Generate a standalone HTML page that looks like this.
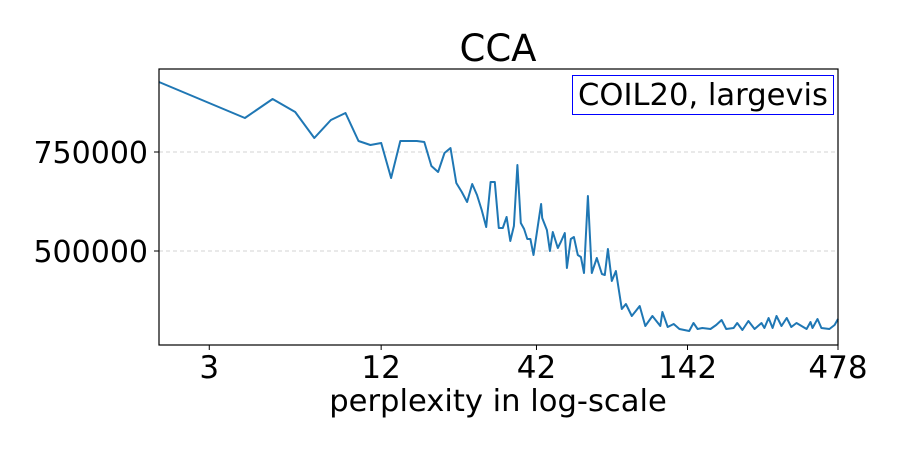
<!DOCTYPE html>
<html><head><meta charset="utf-8"><style>
body{margin:0;background:#fff;}
svg text{font-family:"DejaVu Sans","Liberation Sans",sans-serif;fill:#000;}
</style></head><body>
<svg id="chart" width="900" height="450" viewBox="0 0 900 450" xmlns="http://www.w3.org/2000/svg">
<rect width="900" height="450" fill="#fff"/>
<g id="grid"></g>
<g id="ticks"></g>
<path id="line" fill="none" stroke="#1f77b4" stroke-width="2" stroke-linejoin="round"/>
<rect x="159" y="69" width="679" height="276" fill="none" stroke="#000" stroke-width="1.2"/>
<text x="498" y="61" font-size="37" text-anchor="middle">CCA</text>
<text x="498" y="411" font-size="30.6" text-anchor="middle">perplexity in log-scale</text>
<g>
<rect x="572.5" y="75.5" width="261" height="39" fill="#fff" stroke="#0000ff" stroke-width="1"/>
<text x="703" y="105" font-size="30.6" text-anchor="middle">COIL20, largevis</text>
</g>
</svg>
<script>
const perplexity=[2,4,5,6,7,8,9,10,11,12,13,14,15,16,17,18,19,20,21,22,23,24,25,26,27,28,29,30,31,32,33,34,35,36,37,38,39,40,41,43.6,44,45.7,46.8,47.9,49.9,51.1,52.8,53.7,55.4,56.8,58.6,60.1,61.6,63.6,65.6,68.3,71.2,72.9,74.7,77.1,79.7,83.6,86.4,90.6,96.6,101,107,114,116,121,127,133,144,149,154,160,171,179,187,194,206,212,221,232,244,258,264,273,282,291,303,316,328,342,371,383,389,405,418,446,465,478];
const cca=[926700,835800,883800,851000,785300,830800,848500,777800,767700,772700,684300,777800,777800,777800,775200,714600,699500,747500,760000,671700,649000,623700,669200,641400,603500,560600,674200,674200,558100,558100,585900,525300,563100,717200,570700,555500,530300,530300,489900,618700,583300,553000,500000,548000,507600,522700,545500,457100,530300,535400,489900,484900,444500,638900,444500,482300,441900,439400,505100,424300,449500,353500,366200,335900,361100,310600,335900,310600,345900,308100,315700,303100,298000,318200,303100,305600,303100,313200,325800,303100,305600,318200,300500,323300,303100,318200,305600,330800,305600,335900,310600,330800,308100,318200,303100,320700,305600,328300,305600,303100,313200,328300];
const xTicks=[3,12,42,142,478];
const yTicks=[500000,750000];
const xMin=2,xMax=478,yMin=262650,yMax=959550;
const L=159,R=838,T=69,B=345;
const sx=v=>L+(Math.log10(v)-Math.log10(xMin))/(Math.log10(xMax)-Math.log10(xMin))*(R-L);
const sy=v=>B-(v-yMin)/(yMax-yMin)*(B-T);
const NS="http://www.w3.org/2000/svg";
const grid=document.getElementById('grid'),ticks=document.getElementById('ticks');
yTicks.forEach(t=>{
 const y=sy(t);
 const g=document.createElementNS(NS,'line');
 
 
 g.setAttribute('x1',L);g.setAttribute('x2',R);g.setAttribute('y1',y);g.setAttribute('y2',y);
 g.setAttribute('stroke','#d3d3d3');g.setAttribute('stroke-dasharray','4,3');g.setAttribute('stroke-width','0.9');
 grid.appendChild(g);
 const tk=document.createElementNS(NS,'line');
 
 
 tk.setAttribute('x1',L-5);tk.setAttribute('x2',L);tk.setAttribute('y1',y);tk.setAttribute('y2',y);tk.setAttribute('stroke','#000');
 ticks.appendChild(tk);
 const tx=document.createElementNS(NS,'text');
 
 
 tx.setAttribute('x',L-11);tx.setAttribute('y',y+11);tx.setAttribute('font-size','30');tx.setAttribute('text-anchor','end');
 tx.textContent=t;ticks.appendChild(tx);
});
xTicks.forEach(t=>{
 const x=sx(t);
 const tk=document.createElementNS(NS,'line');
 
 
 tk.setAttribute('x1',x);tk.setAttribute('x2',x);tk.setAttribute('y1',B);tk.setAttribute('y2',B+5);tk.setAttribute('stroke','#000');
 ticks.appendChild(tk);
 const tx=document.createElementNS(NS,'text');
 
 
 tx.setAttribute('x',x);tx.setAttribute('y',B+33);tx.setAttribute('font-size','31');tx.setAttribute('text-anchor','middle');
 tx.textContent=t;ticks.appendChild(tx);
});
document.getElementById('line').setAttribute('d',perplexity.map((p,i)=>(i?'L':'M')+sx(p).toFixed(1)+','+sy(cca[i]).toFixed(1)).join(''));
</script>
</body></html>
